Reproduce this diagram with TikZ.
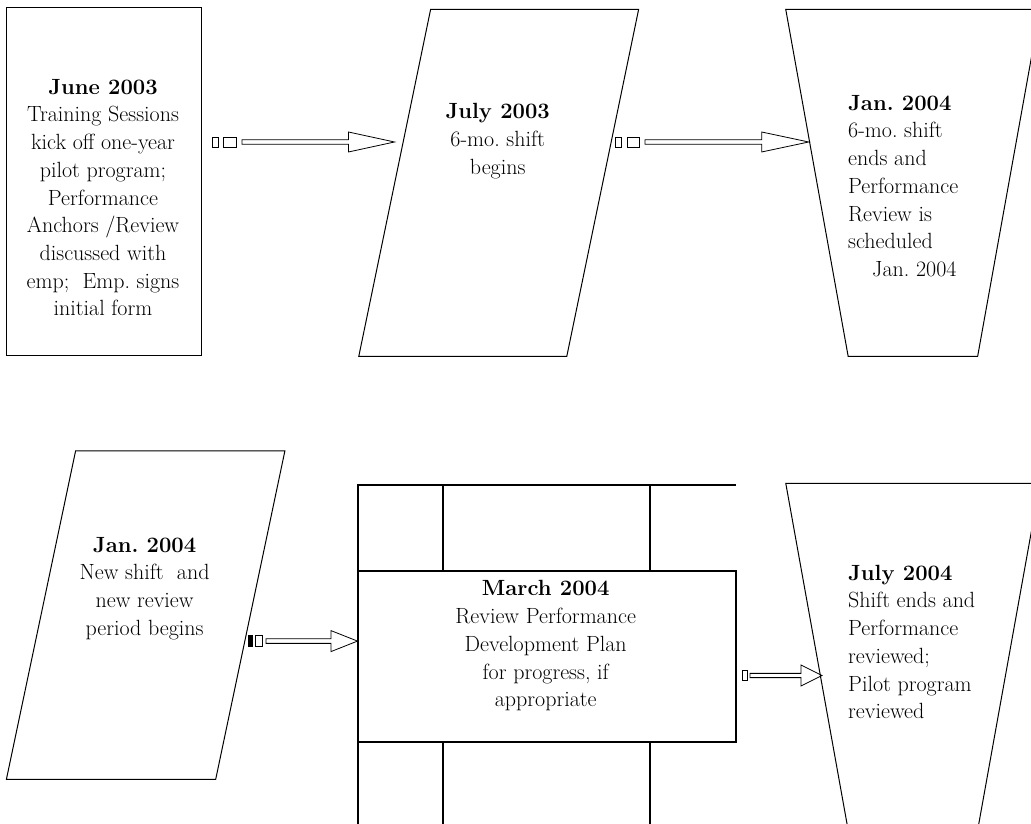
\documentclass[tikz,border=0pt]{standalone}
\usepackage{fontspec}
\usetikzlibrary{positioning,shapes.geometric,shapes.arrows}

\begin{document}
\begin{tikzpicture}[
x=1pt, y=1pt,
outline/.style={
  draw,
  line width=1pt,
  inner sep=0pt,
  outer sep=0pt
  },
flat/.style={outline, rectangle},
para/.style={
  outline,
  trapezium,
  text depth=0pt
  },
cup/.style={
  outline,
  trapezium,
  trapezium angle=100.2,
  text width=129.5pt,
  text height=346.8pt,
  text depth=0pt
  },
brick/.style={line width=2pt, line join=miter},
txt/.style={
  inner sep=0pt,
  align=center,
  anchor=north,
  font=\fontsize{22}{27.7}\selectfont
  },
blockarrow/.style={
  draw,
  line width=0.8pt,
  single arrow,
  single arrow head extend=5pt,
  minimum width=20pt,
  inner sep=1pt,
  outer sep=0pt,
  anchor=tail
  },
stripe/.style={
  draw,
  line width=0.8pt,
  rectangle,
  minimum height=10pt,
  inner sep=0pt,
  outer sep=0pt
  }
]
\clip (0,0) rectangle (1031,824);

% first row
\node[flat, minimum width=195.2pt, minimum height=347.9pt] (june) at (104.2,642.15) {};
\node[para, trapezium left angle=78.3, trapezium right angle=101.7,
  text width=136.2pt, text height=346.8pt] (july) at (498.7,641.1) {};
\node[cup] (jan) at (912.9,641.1) {};

% second row
\node[para, trapezium left angle=78.1, trapezium right angle=101.9,
  text width=140.1pt, text height=328.4pt] (newshift) at (145.65,208.9) {};
\node[flat, line width=2pt, minimum width=378pt, minimum height=171pt] (march) at (546.7,167.8) {};
\node[cup] (julyend) at (912.9,167.3) {};

% frame round the March box
\draw[brick] ([yshift=-100]march.south west) -- ([yshift=85.7]march.north west) -- ++(378,0);
\foreach \dx in {85,292.3}
{
  \draw[brick] ([xshift=\dx]march.north west) -- ++(0,85.7);
  \draw[brick] ([xshift=\dx]march.south west) -- ++(0,-100);
}

% texts
\node[txt] (junetxt) at (103,745) {\textbf{June 2003}\\Training Sessions\\kick off one-year\\pilot program;\\Performance\\Anchors /Review\\discussed with\\emp;\ \ Emp.\ signs\\initial form};
\node[txt] (julytxt) at (497.7,720.6) {\textbf{July 2003}\\6-mo.\ shift\\begins};
\node[txt, align=left, anchor=north west] (jantxt) at (848,729) {\textbf{Jan.\ 2004}\\6-mo.\ shift\\ends and\\Performance\\Review is\\scheduled\\\hspace*{24pt}Jan.\ 2004};
\node[txt] (newshifttxt) at (144.6,287) {\textbf{Jan.\ 2004}\\New shift\ \ and\\new review\\period begins};
\node[txt] (marchtxt) at (545.7,243.5) {\textbf{March 2004}\\Review Performance\\Development Plan\\for progress, if\\appropriate};
\node[txt, align=left, anchor=north west] (julyendtxt) at (848,259.2) {\textbf{July 2004}\\Shift ends and\\Performance\\reviewed;\\Pilot program\\reviewed};

% striped arrows
\node[blockarrow, minimum height=152.5pt, single arrow tip angle=24.5] (a1) at (242,682) {};
\node[stripe, minimum width=12.6pt, left=5.6pt of a1.tail] (a1s2) {};
\node[stripe, minimum width=5.7pt, left=5.7pt of a1s2] (a1s1) {};

\node[blockarrow, minimum height=163.7pt, single arrow tip angle=24] (a2) at (645,682) {};
\node[stripe, minimum width=12pt, left=6pt of a2.tail] (a2s2) {};
\node[stripe, minimum width=6.5pt, left=5.5pt of a2s2] (a2s1) {};

\node[blockarrow, minimum width=21pt, minimum height=91.5pt, single arrow tip angle=43.2] (a3) at (266,182.9) {};
\node[stripe, minimum height=11pt, minimum width=7.5pt, left=3.5pt of a3.tail] (a3s2) {};
\node[stripe, fill=black, minimum height=11pt, minimum width=3.5pt, left=3pt of a3s2] (a3s1) {};

\node[blockarrow, minimum width=21pt, single arrow head extend=5.5pt, minimum height=72pt, single arrow tip angle=53.1] (a4) at (750,148.5) {};
\node[stripe, minimum width=5pt, left=3pt of a4.tail] (a4s1) {};
\end{tikzpicture}
\end{document}
